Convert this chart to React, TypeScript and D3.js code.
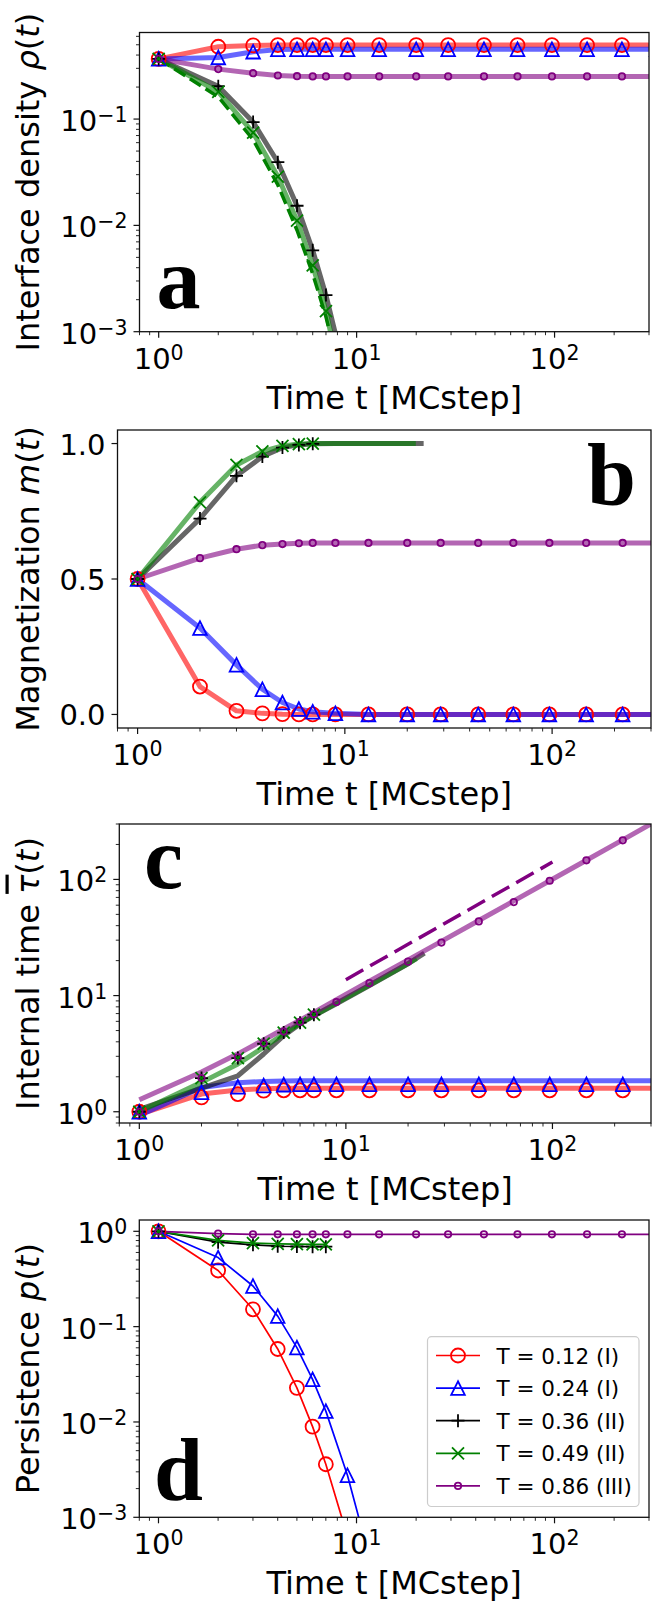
import React from 'react';
import * as d3 from 'd3';

// ---------------- data ----------------
const T_ALL = [1, 2, 3, 4, 5, 6, 7, 9, 13, 20, 29, 44, 65, 97, 146, 219, 328];
const T_EARLY = [1, 2, 3, 4, 5, 6, 7];
const T_EARLY8 = [1, 2, 3, 4, 5, 6, 7, 8];
const T_BLACK_LINE = [1, 2, 3, 4, 5, 6, 7, 9, 13, 20, 24];
const T_GREEN_LINE = [1, 2, 3, 4, 5, 6, 7, 9, 13, 20, 22];
const T_DASH_C = [10, 100];

const SERIES_LABELS = ['T = 0.12 (I)', 'T = 0.24 (I)', 'T = 0.36 (II)', 'T = 0.49 (II)', 'T = 0.86 (III)'];
const SERIES_COLORS = ['red', 'blue', 'black', 'green', 'purple'];
const SERIES_MARKERS = ['o', '^', '+', 'x', 's'];

const X_DOMAIN = [0.8, 300];

// panel a : interface density
const RHO_RED = [0.368, 0.479, 0.493, 0.497, 0.497, 0.497, 0.497, 0.497, 0.497, 0.497, 0.497, 0.497, 0.497, 0.497, 0.497, 0.497, 0.497];
const RHO_BLUE = [0.368, 0.38, 0.43, 0.452, 0.453, 0.453, 0.453, 0.453, 0.453, 0.453, 0.453, 0.453, 0.453, 0.453, 0.453, 0.453, 0.453];
const RHO_PURPLE = [0.368, 0.295, 0.27, 0.257, 0.253, 0.252, 0.252, 0.252, 0.252, 0.252, 0.252, 0.252, 0.252, 0.252, 0.252, 0.252, 0.252];
const RHO_BLACK = [0.368, 0.204, 0.0937, 0.0393, 0.0153, 0.00583, 0.00221, 0.0008];
const RHO_GREEN = [0.368, 0.18, 0.0745, 0.0288, 0.0111, 0.0042, 0.00156, 0.0005];
const RHO_GREEN_DASH = [0.368, 0.162, 0.064, 0.024, 0.009, 0.0035, 0.00138, 0.0005];

// panel b : magnetization
const M_RED = [0.5, 0.103, 0.0135, 0.004, 0.001, 0, 0, 0, 0, 0, 0, 0, 0, 0, 0, 0, 0];
const M_BLUE = [0.5, 0.319, 0.183, 0.093, 0.044, 0.02, 0.01, 0.004, 0, 0, 0, 0, 0, 0, 0, 0, 0];
const M_PURPLE = [0.5, 0.577, 0.61, 0.625, 0.629, 0.632, 0.633, 0.633, 0.633, 0.633, 0.633, 0.633, 0.633, 0.633, 0.633, 0.633, 0.633];
const M_BLACK = [0.5, 0.723, 0.881, 0.952, 0.985, 0.995, 0.999];
const M_GREEN = [0.5, 0.783, 0.921, 0.971, 0.991, 0.998, 1.0];
const M_BLACK_LINE = [0.5, 0.723, 0.881, 0.952, 0.985, 0.995, 0.999, 1, 1, 1, 1];
const M_GREEN_LINE = [0.5, 0.783, 0.921, 0.971, 0.991, 0.998, 1, 1, 1, 1, 1];

// panel c : internal time
const TAU_RED = [1.0, 1.33, 1.42, 1.52, 1.53, 1.53, 1.53, 1.53, 1.53, 1.53, 1.53, 1.53, 1.53, 1.53, 1.53, 1.53, 1.53];
const TAU_RED_LINE = [0.95, 1.42, 1.54, 1.58, 1.59, 1.59, 1.59, 1.59, 1.59, 1.59, 1.59, 1.59, 1.59, 1.59, 1.59, 1.59, 1.59];
const TAU_BLUE = [1.0, 1.47, 1.64, 1.68, 1.71, 1.72, 1.72, 1.72, 1.72, 1.72, 1.72, 1.72, 1.72, 1.72, 1.72, 1.72, 1.72];
const TAU_BLUE_LINE = [0.93, 1.62, 1.78, 1.82, 1.84, 1.85, 1.85, 1.85, 1.85, 1.85, 1.85, 1.85, 1.85, 1.85, 1.85, 1.85, 1.85];
const TAU_PURPLE = [1.0, 1.95, 2.94, 3.88, 4.9, 5.93, 6.9, 8.8, 12.8, 19.6, 28.6, 43.5, 63.8, 97.4, 146, 217, 325];
const TAU_PURPLE_LINE = [1.27, 2.2, 3.15, 4.15, 5.15, 6.15, 7.15, 9.2, 13.3, 20.3, 29.3, 44.3, 65.3, 97.3, 146.3, 219.3, 328.3];
const TAU_BLACK = [1.0, 1.95, 2.9, 3.85, 4.8, 5.85, 6.85];
const TAU_GREEN = [1.0, 1.95, 2.9, 3.85, 4.8, 5.85, 6.85];
const TAU_BLACK_LINE = [1.05, 1.6, 2.04, 3.14, 4.52, 5.7, 6.7, 8.5, 12.2, 18.8, 23.2];
const TAU_GREEN_LINE = [1.0, 1.79, 2.58, 3.59, 4.67, 5.8, 6.7, 8.6, 12.3, 18.9, 20.8];
const TAU_DASH = [13.7, 141];

// panel d : persistence
const T_RED_D = [1, 2, 3, 4, 5, 6, 7, 9];
const P_RED = [1, 0.388, 0.152, 0.0583, 0.0228, 0.00893, 0.0036, 0.00063];
const T_BLUE_D = [1, 2, 3, 4, 5, 6, 7, 9, 13];
const P_BLUE = [1, 0.53, 0.267, 0.129, 0.0603, 0.028, 0.013, 0.00276, 0.00016];
const P_BLACK = [1, 0.77, 0.722, 0.697, 0.693, 0.69, 0.69];
const P_GREEN = [1, 0.805, 0.752, 0.737, 0.733, 0.73, 0.73];
const P_PURPLE = [1, 0.946, 0.93, 0.93, 0.93, 0.93, 0.93, 0.93, 0.93, 0.93, 0.93, 0.93, 0.93, 0.93, 0.93, 0.93, 0.93];

// ---------------- drawing ----------------
const W = 664;
const H = 1613;
const FONT = "'DejaVu Sans', sans-serif";
const FS_TICK = 29;
const FS_SUP = 20.5;
const FS_LABEL = 32;

type Box = { l: number; r: number; t: number; b: number };
type Series = {
  color: string;
  marker?: string;
  lineT?: number[];
  lineV?: number[];
  markT?: number[];
  markV?: number[];
  thick?: boolean;
  dash?: string;
  width?: number;
  opacity?: number;
};

function logTicks(domain: number[]) {
  const [a, b] = domain;
  const lo = Math.floor(Math.log10(a));
  const hi = Math.ceil(Math.log10(b));
  const major: number[] = [];
  const minor: number[] = [];
  for (let p = lo; p <= hi; p++) {
    for (let k = 1; k <= 9; k++) {
      const v = k * Math.pow(10, p);
      if (v < a * (1 - 1e-9) || v > b * (1 + 1e-9)) continue;
      (k === 1 ? major : minor).push(v);
    }
  }
  return { major, minor };
}

function expStr(v: number) {
  const e = Math.round(Math.log10(v));
  return e < 0 ? '\u2212' + -e : String(e);
}

function Marker({ kind, x, y, color }: { kind: string; x: number; y: number; color: string }) {
  const sw = 1.8;
  if (kind === 'o') return <circle cx={x} cy={y} r={7} fill="none" stroke={color} strokeWidth={sw} />;
  if (kind === 's') return <circle cx={x} cy={y} r={3.2} fill="none" stroke={color} strokeWidth={sw} />;
  if (kind === '^') {
    const s = 6.8;
    return <path d={`M${x},${y - s}L${x - s},${y + s}L${x + s},${y + s}Z`} fill="none" stroke={color} strokeWidth={sw} strokeLinejoin="miter" />;
  }
  if (kind === '+') {
    const s = 6.5;
    return <path d={`M${x - s},${y}H${x + s}M${x},${y - s}V${y + s}`} fill="none" stroke={color} strokeWidth={sw} />;
  }
  const s = 6;
  return <path d={`M${x - s},${y - s}L${x + s},${y + s}M${x - s},${y + s}L${x + s},${y - s}`} fill="none" stroke={color} strokeWidth={sw} />;
}

type PanelProps = {
  id: string;
  box: Box;
  yLog: boolean;
  yDomain: number[];
  yLinTicks?: number[];
  yTickFmt?: (v: number) => string;
  series: Series[];
  ylabel: React.ReactNode;
  letter: { ch: string; x: number; y: number };
  legend?: boolean;
};

function Panel(p: PanelProps) {
  const { box } = p;
  const x = d3.scaleLog().domain(X_DOMAIN).range([box.l, box.r]);
  const y: any = p.yLog
    ? d3.scaleLog().domain(p.yDomain).range([box.b, box.t])
    : d3.scaleLinear().domain(p.yDomain).range([box.b, box.t]);
  const xt = logTicks(X_DOMAIN);
  const yt = p.yLog ? logTicks(p.yDomain) : { major: p.yLinTicks || [], minor: [] as number[] };
  const line = d3
    .line<[number, number]>()
    .x((d) => x(d[0]))
    .y((d) => y(d[1]));
  const clipId = `clip-${p.id}`;
  const cx = (box.l + box.r) / 2;
  const cy = (box.t + box.b) / 2;

  return (
    <g>
      <defs>
        <clipPath id={clipId}>
          <rect x={box.l} y={box.t} width={box.r - box.l} height={box.b - box.t} />
        </clipPath>
      </defs>
      <g clipPath={`url(#${clipId})`}>
        {p.series.map((s, i) =>
          s.lineT && s.lineV ? (
            <path
              key={'l' + i}
              d={line(s.lineT.map((t, j) => [t, s.lineV![j]]) as [number, number][]) || ''}
              fill="none"
              stroke={s.color}
              strokeWidth={s.width ?? (s.thick ? 5 : 1.7)}
              strokeOpacity={s.opacity ?? (s.thick ? 0.6 : 1)}
              strokeDasharray={s.dash}
              strokeLinejoin="round"
            />
          ) : null
        )}
        {p.series.map((s, i) =>
          s.markT && s.markV && s.marker ? (
            <g key={'m' + i}>
              {s.markT.map((t, j) => (
                <Marker key={j} kind={s.marker!} x={x(t)} y={y(s.markV![j])} color={s.color} />
              ))}
            </g>
          ) : null
        )}
      </g>
      {/* frame */}
      <rect x={box.l} y={box.t} width={box.r - box.l} height={box.b - box.t} fill="none" stroke="#111" strokeWidth={1.3} />
      {/* x ticks */}
      {xt.major.map((v) => (
        <g key={'xM' + v}>
          <line x1={x(v)} x2={x(v)} y1={box.b} y2={box.b + 6} stroke="#111" strokeWidth={1.2} />
          <text x={x(v)} y={box.b + 37} fontSize={FS_TICK} fontFamily={FONT} textAnchor="middle" fill="#000">
            10<tspan fontSize={FS_SUP} dy={-9}>{expStr(v)}</tspan>
          </text>
        </g>
      ))}
      {xt.minor.map((v) => (
        <line key={'xm' + v} x1={x(v)} x2={x(v)} y1={box.b} y2={box.b + 3.5} stroke="#111" strokeWidth={0.9} />
      ))}
      {/* y ticks */}
      {yt.major.map((v) => (
        <g key={'yM' + v}>
          <line x1={box.l - 6} x2={box.l} y1={y(v)} y2={y(v)} stroke="#111" strokeWidth={1.2} />
          {p.yLog ? (
            <text x={box.l - 12} y={y(v) + 12} fontSize={FS_TICK} fontFamily={FONT} textAnchor="end" fill="#000">
              10<tspan fontSize={FS_SUP} dy={-9}>{expStr(v)}</tspan>
            </text>
          ) : (
            <text x={box.l - 12} y={y(v) + 11} fontSize={FS_TICK} fontFamily={FONT} textAnchor="end" fill="#000">
              {p.yTickFmt ? p.yTickFmt(v) : String(v)}
            </text>
          )}
        </g>
      ))}
      {yt.minor.map((v) => (
        <line key={'ym' + v} x1={box.l - 3.5} x2={box.l} y1={y(v)} y2={y(v)} stroke="#111" strokeWidth={0.9} />
      ))}
      {/* labels */}
      <text x={cx} y={box.b + 77} fontSize={FS_LABEL} fontFamily={FONT} textAnchor="middle" fill="#000">
        Time t [MCstep]
      </text>
      <text
        transform={`translate(38.5,${cy}) rotate(-90)`}
        fontSize={FS_LABEL}
        fontFamily={FONT}
        textAnchor="middle"
        fill="#000"
      >
        {p.ylabel}
      </text>
      <text x={p.letter.x} y={p.letter.y} fontSize={88} fontFamily="'Liberation Serif', 'Times New Roman', serif" fontWeight="bold" fill="#000">
        {p.letter.ch}
      </text>
      {p.legend ? <Legend /> : null}
    </g>
  );
}

function Legend() {
  const bx = 427.5;
  const by = 1336.7;
  const bw = 211.5;
  const bh = 169.8;
  const row0 = 1355.5;
  const dy = 32.6;
  return (
    <g>
      <rect x={bx} y={by} width={bw} height={bh} rx={4} ry={4} fill="#fff" fillOpacity={0.8} stroke="#cccccc" strokeWidth={1.2} />
      {SERIES_LABELS.map((lab, i) => {
        const ry = row0 + i * dy;
        return (
          <g key={lab}>
            <line x1={436} x2={480} y1={ry} y2={ry} stroke={SERIES_COLORS[i]} strokeWidth={1.7} />
            <Marker kind={SERIES_MARKERS[i]} x={458} y={ry} color={SERIES_COLORS[i]} />
            <text x={496.5} y={ry + 8} fontSize={21.5} fontFamily={FONT} fill="#000">
              {lab}
            </text>
          </g>
        );
      })}
    </g>
  );
}

const it = (s: string) => <tspan fontStyle="italic">{s}</tspan>;

export default function App() {
  const seriesA: Series[] = [
    { color: 'red', marker: 'o', lineT: T_ALL, lineV: RHO_RED, markT: T_ALL, markV: RHO_RED, thick: true },
    { color: 'blue', marker: '^', lineT: T_ALL, lineV: RHO_BLUE, markT: T_ALL, markV: RHO_BLUE, thick: true },
    { color: 'black', marker: '+', lineT: T_EARLY8, lineV: RHO_BLACK, markT: T_EARLY8, markV: RHO_BLACK, thick: true },
    { color: 'green', marker: 'x', lineT: T_EARLY8, lineV: RHO_GREEN, markT: T_EARLY8, markV: RHO_GREEN, thick: true },
    { color: 'green', lineT: T_EARLY8, lineV: RHO_GREEN_DASH, width: 3.5, opacity: 1, dash: '13 5.5' },
    { color: 'purple', marker: 's', lineT: T_ALL, lineV: RHO_PURPLE, markT: T_ALL, markV: RHO_PURPLE, thick: true },
  ];
  const seriesB: Series[] = [
    { color: 'red', marker: 'o', lineT: T_ALL, lineV: M_RED, markT: T_ALL, markV: M_RED, thick: true },
    { color: 'blue', marker: '^', lineT: T_ALL, lineV: M_BLUE, markT: T_ALL, markV: M_BLUE, thick: true },
    { color: 'black', marker: '+', lineT: T_BLACK_LINE, lineV: M_BLACK_LINE, markT: T_EARLY, markV: M_BLACK, thick: true },
    { color: 'green', marker: 'x', lineT: T_GREEN_LINE, lineV: M_GREEN_LINE, markT: T_EARLY, markV: M_GREEN, thick: true },
    { color: 'purple', marker: 's', lineT: T_ALL, lineV: M_PURPLE, markT: T_ALL, markV: M_PURPLE, thick: true },
  ];
  const seriesC: Series[] = [
    { color: 'red', marker: 'o', lineT: T_ALL, lineV: TAU_RED_LINE, markT: T_ALL, markV: TAU_RED, thick: true },
    { color: 'blue', marker: '^', lineT: T_ALL, lineV: TAU_BLUE_LINE, markT: T_ALL, markV: TAU_BLUE, thick: true },
    { color: 'black', marker: '+', lineT: T_BLACK_LINE, lineV: TAU_BLACK_LINE, markT: T_EARLY, markV: TAU_BLACK, thick: true },
    { color: 'green', marker: 'x', lineT: T_GREEN_LINE, lineV: TAU_GREEN_LINE, markT: T_EARLY, markV: TAU_GREEN, thick: true },
    { color: 'purple', marker: 's', lineT: T_ALL, lineV: TAU_PURPLE_LINE, markT: T_ALL, markV: TAU_PURPLE, thick: true },
    { color: 'purple', lineT: T_DASH_C, lineV: TAU_DASH, width: 3.5, opacity: 1, dash: '20 8' },
  ];
  const seriesD: Series[] = [
    { color: 'red', marker: 'o', lineT: T_RED_D, lineV: P_RED, markT: T_RED_D, markV: P_RED },
    { color: 'blue', marker: '^', lineT: T_BLUE_D, lineV: P_BLUE, markT: T_BLUE_D, markV: P_BLUE },
    { color: 'black', marker: '+', lineT: T_EARLY, lineV: P_BLACK, markT: T_EARLY, markV: P_BLACK },
    { color: 'green', marker: 'x', lineT: T_EARLY, lineV: P_GREEN, markT: T_EARLY, markV: P_GREEN },
    { color: 'purple', marker: 's', lineT: T_ALL, lineV: P_PURPLE, markT: T_ALL, markV: P_PURPLE },
  ];

  return (
    <svg width={W} height={H} viewBox={`0 0 ${W} ${H}`} style={{ position: 'absolute', left: 0, top: 0, background: '#fff' }}>
      <rect x={0} y={0} width={W} height={H} fill="#fff" />
      <Panel
        id="a"
        box={{ l: 139.5, r: 649, t: 32.5, b: 331.7 }}
        yLog
        yDomain={[1e-3, 0.652]}
        series={seriesA}
        ylabel={<>Interface density {it('ρ')}({it('t')})</>}
        letter={{ ch: 'a', x: 156.5, y: 307.5 }}
      />
      <Panel
        id="b"
        box={{ l: 117.5, r: 651, t: 430, b: 728 }}
        yLog={false}
        yDomain={[-0.05, 1.05]}
        yLinTicks={[0, 0.5, 1]}
        yTickFmt={(v) => v.toFixed(1)}
        series={seriesB}
        ylabel={<>Magnetization {it('m')}({it('t')})</>}
        letter={{ ch: 'b', x: 587, y: 505 }}
      />
      <Panel
        id="c"
        box={{ l: 119.3, r: 651, t: 824, b: 1123 }}
        yLog
        yDomain={[0.8, 300]}
        series={seriesC}
        ylabel={
          <>
            Internal time <tspan fontStyle="italic" textDecoration="overline">τ</tspan>({it('t')})
          </>
        }
        letter={{ ch: 'c', x: 144, y: 888 }}
      />
      <Panel
        id="d"
        box={{ l: 139.3, r: 649, t: 1220, b: 1517.3 }}
        yLog
        yDomain={[1e-3, 1.314]}
        series={seriesD}
        ylabel={<>Persistence {it('p')}({it('t')})</>}
        letter={{ ch: 'd', x: 154, y: 1500 }}
        legend
      />
    </svg>
  );
}
